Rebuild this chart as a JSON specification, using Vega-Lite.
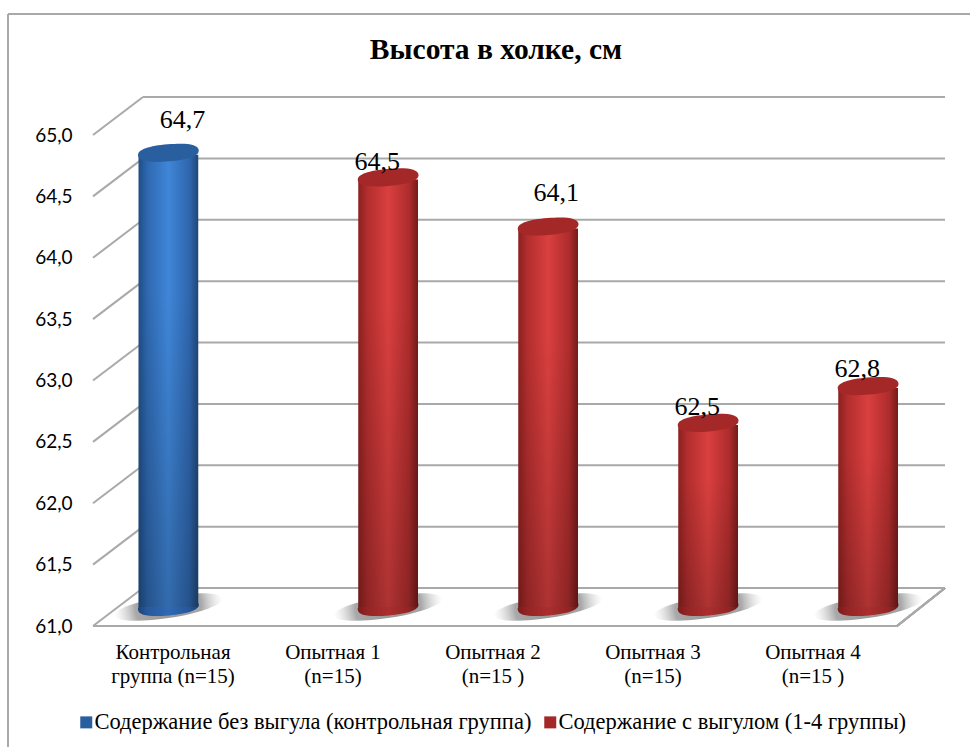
{
  "$schema": "https://vega.github.io/schema/vega-lite/v6.json",
  "width": 800,
  "height": 530,
  "autosize": "none",
  "padding": {"left": 93, "top": 96, "right": 77, "bottom": 121},
  "background": "white",
  "title": {
    "text": "Высота в холке, см",
    "font": "Liberation Serif",
    "fontSize": 29.5,
    "fontWeight": "bold",
    "color": "black",
    "anchor": "middle",
    "dx": 3,
    "dy": 52,
    "offset": 0
  },
  "config": {
    "view": {"stroke": null},
    "locale": {"number": {"decimal": ",", "thousands": " ", "grouping": [3], "currency": ["", ""]}}
  },
  "datasets": {
    "heights": [
      {"group": "Контрольная\nгруппа (n=15)", "series": "Содержание без выгула (контрольная группа)", "value": 64.7},
      {"group": "Опытная 1\n(n=15)", "series": "Содержание с выгулом (1-4 группы)", "value": 64.5},
      {"group": "Опытная 2\n(n=15 )", "series": "Содержание с выгулом (1-4 группы)", "value": 64.1},
      {"group": "Опытная 3\n(n=15)", "series": "Содержание с выгулом (1-4 группы)", "value": 62.5},
      {"group": "Опытная 4\n(n=15 )", "series": "Содержание с выгулом (1-4 группы)", "value": 62.8}
    ],
    "ticks": [
      {"tick": 61.0}, {"tick": 61.5}, {"tick": 62.0}, {"tick": 62.5}, {"tick": 63.0},
      {"tick": 63.5}, {"tick": 64.0}, {"tick": 64.5}, {"tick": 65.0}
    ]
  },
  "data": {"name": "heights"},
  "encoding": {
    "x": {
      "field": "group",
      "type": "nominal",
      "title": null,
      "sort": null,
      "scale": {
        "domain": ["Контрольная\nгруппа (n=15)", "Опытная 1\n(n=15)", "Опытная 2\n(n=15 )", "Опытная 3\n(n=15)", "Опытная 4\n(n=15 )"],
        "paddingInner": 0,
        "paddingOuter": 0
      },
      "axis": {
        "labelExpr": "split(datum.label, '\\n')",
        "labelAngle": 0,
        "labelFont": "Liberation Serif",
        "labelFontSize": 21,
        "labelColor": "black",
        "labelLineHeight": 24,
        "labelPadding": 15,
        "labelLimit": 0,
        "ticks": false,
        "domain": false
      }
    },
    "xOffset": {
      "field": "series",
      "type": "nominal",
      "scale": {
        "domain": ["Содержание без выгула (контрольная группа)", "Содержание с выгулом (1-4 группы)"],
        "range": [45.5, 165],
        "paddingInner": 0,
        "paddingOuter": 0
      }
    },
    "y": {
      "field": "value",
      "type": "quantitative",
      "title": null,
      "scale": {"domain": [61, 65.318], "nice": false, "zero": false},
      "axis": {
        "values": [61, 61.5, 62, 62.5, 63, 63.5, 64, 64.5, 65],
        "format": ".1f",
        "labelFont": "Lato",
        "labelFontSize": 19,
        "labelColor": "black",
        "labelPadding": 21,
        "ticks": false,
        "domain": false,
        "grid": false
      }
    }
  },
  "layer": [
    {
      "data": {"name": "ticks"},
      "mark": {"type": "rule", "color": "#a9a9a9", "strokeWidth": 2, "xOffset": -30, "x2Offset": 132, "yOffset": -38, "y2Offset": -38},
      "encoding": {
        "x": {"datum": "Контрольная\nгруппа (n=15)"},
        "x2": {"datum": "Опытная 4\n(n=15 )"},
        "xOffset": null,
        "y": {"field": "tick", "type": "quantitative"},
        "y2": {"field": "tick"}
      }
    },
    {
      "data": {"name": "ticks"},
      "mark": {"type": "rule", "color": "#a9a9a9", "strokeWidth": 2, "xOffset": -80, "x2Offset": -30, "y2Offset": -38},
      "encoding": {
        "x": {"datum": "Контрольная\nгруппа (n=15)"},
        "x2": {"datum": "Контрольная\nгруппа (n=15)"},
        "xOffset": null,
        "y": {"field": "tick", "type": "quantitative"},
        "y2": {"field": "tick"}
      }
    },
    {
      "mark": {"type": "rule", "color": "#a9a9a9", "strokeWidth": 2, "xOffset": -80, "x2Offset": 84},
      "encoding": {
        "x": {"datum": "Контрольная\nгруппа (n=15)"},
        "x2": {"datum": "Опытная 4\n(n=15 )"},
        "xOffset": null,
        "y": {"datum": 61},
        "y2": {"datum": 61}
      }
    },
    {
      "mark": {"type": "rule", "color": "#a9a9a9", "strokeWidth": 2, "xOffset": 84, "x2Offset": 132, "y2Offset": -38},
      "encoding": {
        "x": {"datum": "Опытная 4\n(n=15 )"},
        "x2": {"datum": "Опытная 4\n(n=15 )"},
        "xOffset": null,
        "y": {"datum": 61},
        "y2": {"datum": 61}
      }
    },
    {
      "mark": {"type": "rule", "color": "#a9a9a9", "strokeWidth": 2, "xOffset": -165, "x2Offset": 157},
      "encoding": {
        "x": {"datum": "Контрольная\nгруппа (n=15)"},
        "x2": {"datum": "Опытная 4\n(n=15 )"},
        "xOffset": null,
        "y": {"datum": 65.986},
        "y2": {"datum": 65.986}
      }
    },
    {
      "mark": {"type": "rule", "color": "#a9a9a9", "strokeWidth": 2, "xOffset": -165, "x2Offset": -165, "y2Offset": 121},
      "encoding": {
        "x": {"datum": "Контрольная\nгруппа (n=15)"},
        "x2": {"datum": "Контрольная\nгруппа (n=15)"},
        "xOffset": null,
        "y": {"datum": 65.986},
        "y2": {"datum": 61}
      }
    },
    {
      "mark": {
        "type": "point",
        "filled": true,
        "opacity": 1,
        "shape": "M-1,0A1,0.2,0,1,1,1,0A1,0.2,0,1,1,-1,0Z",
        "size": 12100,
        "angle": -9,
        "yOffset": -19,
        "fill": {
          "gradient": "radial", "x1": 0.5, "y1": 0.5, "r1": 0, "x2": 0.5, "y2": 0.5, "r2": 0.5,
          "stops": [
            {"offset": 0, "color": "#949494"},
            {"offset": 0.6, "color": "#a8a8a8"},
            {"offset": 1, "color": "rgba(215,215,215,0)"}
          ]
        }
      },
      "encoding": {
        "y": {"datum": 61}
      }
    },
    {
      "transform": [{"filter": "datum.series === 'Содержание без выгула (контрольная группа)'"}],
      "mark": {
        "type": "point", "filled": true, "opacity": 1,
        "shape": "M-1,0C-1,-0.2,-0.6,-0.28,0,-0.28C0.6,-0.28,1,-0.2,1,0C1,0.2,0.6,0.28,0,0.28C-0.6,0.28,-1,0.2,-1,0Z",
        "size": 3721, "angle": -5, "yOffset": -19,
        "fill": {"gradient": "linear", "x1": 0, "y1": 0, "x2": 1, "y2": 0, "stops": [
          {"offset": 0, "color": "#1c4476"}, {"offset": 0.15, "color": "#27589a"}, {"offset": 0.5, "color": "#3069b6"}, {"offset": 0.85, "color": "#26569a"}, {"offset": 1, "color": "#1a3f6e"}
        ]}
      },
      "encoding": {
        "y": {"datum": 61}
      }
    },
    {
      "transform": [{"filter": "datum.series === 'Содержание с выгулом (1-4 группы)'"}],
      "mark": {
        "type": "point", "filled": true, "opacity": 1,
        "shape": "M-1,0C-1,-0.2,-0.6,-0.28,0,-0.28C0.6,-0.28,1,-0.2,1,0C1,0.2,0.6,0.28,0,0.28C-0.6,0.28,-1,0.2,-1,0Z",
        "size": 3721, "angle": -5, "yOffset": -19,
        "fill": {"gradient": "linear", "x1": 0, "y1": 0, "x2": 1, "y2": 0, "stops": [
          {"offset": 0, "color": "#7a1c1c"}, {"offset": 0.15, "color": "#952424"}, {"offset": 0.5, "color": "#ab2e2e"}, {"offset": 0.85, "color": "#922424"}, {"offset": 1, "color": "#6e1818"}
        ]}
      },
      "encoding": {
        "y": {"datum": 61}
      }
    },
    {
      "transform": [{"filter": "datum.series === 'Содержание без выгула (контрольная группа)'"}],
      "mark": {
        "type": "bar", "yOffset": -17, "y2Offset": -19,
        "fill": {"gradient": "linear", "x1": 0, "y1": 0, "x2": 1, "y2": 0, "stops": [
          {"offset": 0, "color": "#1f4d86"}, {"offset": 0.15, "color": "#2f68b0"}, {"offset": 0.5, "color": "#3f86d8"}, {"offset": 0.85, "color": "#2f66ae"}, {"offset": 1, "color": "#1f4777"}
        ]}
      },
      "encoding": {
        "y2": {"datum": 61}
      }
    },
    {
      "transform": [{"filter": "datum.series === 'Содержание с выгулом (1-4 группы)'"}],
      "mark": {
        "type": "bar", "yOffset": -17, "y2Offset": -19,
        "fill": {"gradient": "linear", "x1": 0, "y1": 0, "x2": 1, "y2": 0, "stops": [
          {"offset": 0, "color": "#8a2020"}, {"offset": 0.15, "color": "#b22d2d"}, {"offset": 0.5, "color": "#d93f3f"}, {"offset": 0.85, "color": "#ae2c2c"}, {"offset": 1, "color": "#761a1a"}
        ]}
      },
      "encoding": {
        "y2": {"datum": 61}
      }
    },
    {
      "mark": {
        "type": "bar", "yOffset": -17, "y2Offset": -19,
        "fill": {"gradient": "linear", "x1": 0, "y1": 0, "x2": 0, "y2": 1, "stops": [
          {"offset": 0, "color": "rgba(0,0,0,0)"}, {"offset": 0.3, "color": "rgba(0,0,0,0)"}, {"offset": 1, "color": "rgba(0,0,0,0.2)"}
        ]}
      },
      "encoding": {
        "y2": {"datum": 61}
      }
    },
    {
      "mark": {
        "type": "point", "filled": true, "opacity": 1,
        "shape": "M-1,0C-1,-0.2,-0.6,-0.28,0,-0.28C0.6,-0.28,1,-0.2,1,0C1,0.2,0.6,0.28,0,0.28C-0.6,0.28,-1,0.2,-1,0Z",
        "size": 3721, "angle": -5, "yOffset": -19
      },
      "encoding": {
        "color": {
          "field": "series",
          "type": "nominal",
          "scale": {
            "domain": ["Содержание без выгула (контрольная группа)", "Содержание с выгулом (1-4 группы)"],
            "range": ["#2a5f9f", "#a52828"]
          },
          "legend": {
            "title": null,
            "orient": "none",
            "legendX": -18,
            "legendY": 615,
            "direction": "horizontal",
            "columns": 2,
            "symbolType": "square",
            "symbolSize": 144,
            "symbolStrokeWidth": 0,
            "labelFont": "Liberation Serif",
            "labelFontSize": 22.5,
            "labelColor": "black",
            "labelLimit": 0,
            "labelOffset": -3,
            "columnPadding": 7
          }
        }
      }
    },
    {
      "transform": [{"filter": "datum.value === 64.7"}],
      "mark": {"type": "text", "font": "Liberation Serif", "fontSize": 26, "color": "black", "dx": 14, "dy": -52},
      "encoding": {"text": {"field": "value", "type": "quantitative", "format": ".1f"}}
    },
    {
      "transform": [{"filter": "datum.value === 64.5"}],
      "mark": {"type": "text", "font": "Liberation Serif", "fontSize": 26, "color": "black", "dx": -11, "dy": -34},
      "encoding": {"text": {"field": "value", "type": "quantitative", "format": ".1f"}}
    },
    {
      "transform": [{"filter": "datum.value === 64.1"}],
      "mark": {"type": "text", "font": "Liberation Serif", "fontSize": 26, "color": "black", "dx": 8, "dy": -52},
      "encoding": {"text": {"field": "value", "type": "quantitative", "format": ".1f"}}
    },
    {
      "transform": [{"filter": "datum.value === 62.5"}],
      "mark": {"type": "text", "font": "Liberation Serif", "fontSize": 26, "color": "black", "dx": -11, "dy": -35},
      "encoding": {"text": {"field": "value", "type": "quantitative", "format": ".1f"}}
    },
    {
      "transform": [{"filter": "datum.value === 62.8"}],
      "mark": {"type": "text", "font": "Liberation Serif", "fontSize": 26, "color": "black", "dx": -11, "dy": -36},
      "encoding": {"text": {"field": "value", "type": "quantitative", "format": ".1f"}}
    }
  ]
}
